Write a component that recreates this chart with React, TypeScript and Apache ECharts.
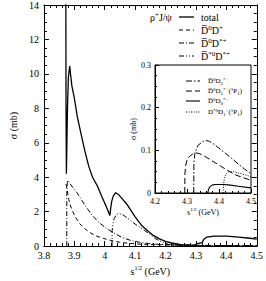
import React, { useEffect, useRef } from 'react';
import * as echarts from 'echarts';

// ---- main panel data (sqrt(s) in GeV, sigma in mb) ----
const totalX = [3.872, 3.8728, 3.874, 3.8752, 3.8775, 3.8805, 3.885, 3.8875, 3.892, 3.9, 3.91, 3.923, 3.935, 3.948, 3.96, 3.977, 3.99, 4.005, 4.017, 4.019, 4.023, 4.028, 4.036, 4.045, 4.06, 4.0755, 4.085, 4.1, 4.115, 4.124, 4.144, 4.16, 4.18, 4.2, 4.22, 4.25, 4.28, 4.295, 4.305, 4.32, 4.326, 4.335, 4.36, 4.4, 4.44, 4.47, 4.5];
const totalY = [16, 8.0, 4.2, 5.5, 8.0, 9.8, 10.45, 10.0, 9.3, 8.6, 7.5, 6.45, 5.5, 4.6, 4.0, 3.45, 2.9, 2.3, 1.78, 2.1, 2.6, 2.9, 3.1, 3.0, 2.7, 2.37, 2.1, 1.7, 1.35, 1.15, 0.85, 0.62, 0.42, 0.28, 0.18, 0.09, 0.06, 0.06, 0.15, 0.2, 0.4, 0.52, 0.58, 0.58, 0.52, 0.47, 0.4];

const d0dpX = [3.873, 3.876, 3.882, 3.89, 3.903, 3.918, 3.932, 3.95, 3.97, 3.995, 4.02, 4.05, 4.08, 4.12, 4.17, 4.23, 4.3, 4.4, 4.5];
const d0dpY = [3.6, 3.3, 2.7, 2.2, 1.7, 1.3, 1.05, 0.8, 0.6, 0.45, 0.33, 0.22, 0.16, 0.11, 0.08, 0.06, 0.04, 0.03, 0.02];

const d0dspX = [3.8752, 3.8753, 3.877, 3.879, 3.885, 3.895, 3.909, 3.923, 3.938, 3.956, 3.976, 4.0, 4.026, 4.055, 4.085, 4.115, 4.144, 4.18, 4.22, 4.28, 4.35, 4.42, 4.5];
const d0dspY = [0, 3.0, 3.7, 3.82, 3.65, 3.4, 3.1, 2.7, 2.3, 1.85, 1.45, 1.1, 0.8, 0.52, 0.33, 0.22, 0.15, 0.1, 0.07, 0.05, 0.04, 0.03, 0.03];

const ds0dspX = [4.024, 4.0245, 4.027, 4.031, 4.038, 4.047, 4.06, 4.075, 4.085, 4.1, 4.115, 4.13, 4.144, 4.165, 4.19, 4.21, 4.24, 4.3, 4.4, 4.5];
const ds0dspY = [0, 0.9, 1.3, 1.6, 1.82, 1.9, 1.82, 1.62, 1.48, 1.28, 1.1, 0.92, 0.75, 0.45, 0.22, 0.1, 0.05, 0.03, 0.02, 0.01];

// ---- inset data ----
const d2X = [4.321, 4.3215, 4.325, 4.335, 4.35, 4.36, 4.37, 4.385, 4.4, 4.42, 4.44, 4.46, 4.48, 4.5];
const d2Y = [0, 0.07, 0.095, 0.112, 0.121, 0.123, 0.121, 0.114, 0.105, 0.093, 0.081, 0.068, 0.056, 0.045];

const d1X = [4.293, 4.2935, 4.296, 4.3, 4.308, 4.317, 4.329, 4.34, 4.36, 4.39, 4.42, 4.45, 4.475, 4.5];
const d1Y = [0, 0.045, 0.065, 0.077, 0.086, 0.091, 0.094, 0.092, 0.084, 0.07, 0.056, 0.043, 0.036, 0.03];

const d0X = [4.365, 4.367, 4.372, 4.38, 4.39, 4.41, 4.43, 4.46, 4.5];
const d0Y = [0, 0.008, 0.015, 0.019, 0.02, 0.02, 0.019, 0.016, 0.012];

const dsd1X = [4.413, 4.414, 4.417, 4.422, 4.43, 4.445, 4.465, 4.485, 4.5];
const dsd1Y = [0, 0.02, 0.035, 0.045, 0.05, 0.05, 0.046, 0.042, 0.038];

const zip = (xs: number[], ys: number[]) => xs.map((x, i) => [x, ys[i]]);

const FONT = 'Liberation Serif';
const BAR = '\u0305';

// line styles
const DASH_D0DP = [4, 3];
const DASH_D0DSP = [5, 2, 1, 2];
const DASH_DS0DSP = [5, 2, 1, 2, 1, 2];
const DASH_D2 = [6, 2, 1.5, 2];
const DASH_D1 = [6, 3];
const DASH_DOT = [1, 1.5];

const labels: Record<string, string> = {
  'total': '{n|total}',
  'D0D+': `{n|D${BAR}}{sp|0}{n|D}{sp|+}`,
  'D0D*+': `{n|D${BAR}}{sp|0}{n|D}{sp|*+}`,
  'D*0D*+': `{n|D${BAR}}{sp|*0}{n|D}{sp|*+}`,
  'D0D2*+': `{n|D${BAR}}{sp|0}{n|D}{sb|2}{sp|*+}`,
  'D0D1*+(3P1)': `{n|D${BAR}}{sp|0}{n|D}{sb|1}{sp|*+}{n|(}{sp|3}{n|P}{sb|1}{n|)}`,
  'D0D0*+': `{n|D${BAR}}{sp|0}{n|D}{sb|0}{sp|*+}`,
  'D*0D1+(1P1)': `{n|D}{sp|*0}{n|D}{sb|1}{sp|+}{n|(}{sp|1}{n|P}{sb|1}{n|)}`,
};

const richMain = {
  n: { fontFamily: FONT, fontSize: 10, lineHeight: 11, color: '#000' },
  sp: { fontFamily: FONT, fontSize: 7, lineHeight: 7, verticalAlign: 'top', color: '#000' },
  sb: { fontFamily: FONT, fontSize: 7, lineHeight: 7, verticalAlign: 'bottom', color: '#000' },
};
const richInset = {
  n: { fontFamily: FONT, fontSize: 7, lineHeight: 9, color: '#000' },
  sp: { fontFamily: FONT, fontSize: 5, lineHeight: 5, verticalAlign: 'top', color: '#000' },
  sb: { fontFamily: FONT, fontSize: 5, lineHeight: 5, verticalAlign: 'bottom', color: '#000' },
};

function axisCommon(fontSize: number, tickLen: number, minorLen: number, split: number) {
  return {
    axisLine: { show: true, onZero: false, lineStyle: { color: '#000', width: 1 } },
    axisTick: { show: true, inside: true, length: tickLen, lineStyle: { color: '#000', width: 1 } },
    minorTick: { show: true, splitNumber: split, length: minorLen, lineStyle: { color: '#000', width: 1 } },
    splitLine: { show: false },
    minorSplitLine: { show: false },
    axisLabel: { fontFamily: FONT, fontSize, color: '#000' },
  };
}

function legendRow(x1: number, x2: number, y: number, tx: number, dash: any, width: number, key: string, rich: any) {
  return [
    { type: 'line', z: 20, shape: { x1, y1: y, x2, y2: y }, style: { stroke: '#000', lineWidth: width, lineDash: dash } },
    { type: 'text', z: 20, x: tx, y, style: { text: labels[key], rich, verticalAlign: 'middle', align: 'left' } },
  ];
}

export default function App() {
  const ref = useRef<HTMLDivElement>(null);
  useEffect(() => {
    const chart = echarts.init(ref.current!, null, { renderer: 'svg' });
    const line = (name: string, xs: number[], ys: number[], type: any, width: number, gi: number) => ({
      name,
      type: 'line',
      xAxisIndex: gi === 0 ? 0 : 2,
      yAxisIndex: gi === 0 ? 0 : 2,
      data: zip(xs, ys),
      symbol: 'none',
      showSymbol: false,
      clip: true,
      lineStyle: { color: '#000', width, type },
      itemStyle: { color: '#000' },
      z: 5,
    });
    const option: any = {
      animation: false,
      backgroundColor: '#fff',
      textStyle: { fontFamily: FONT },
      grid: [
        { left: 23, top: 4, width: 238, height: 252, show: false },
        { left: 155, top: 65, width: 96, height: 128, show: true, borderColor: '#000', borderWidth: 1, backgroundColor: '#fff', z: 3 },
      ],
      xAxis: [
        {
          gridIndex: 0, type: 'value', min: 3.8, max: 4.5, interval: 0.1, position: 'bottom',
          ...axisCommon(10, 5, 3, 5),
          axisLabel: { fontFamily: FONT, fontSize: 10, color: '#000', margin: 4 },
          name: '{s|s}{sp|1/2}{n| (GeV)}', nameLocation: 'middle', nameGap: 15,
          nameTextStyle: {
            rich: {
              s: { fontFamily: FONT, fontSize: 10, lineHeight: 12, color: '#000' },
              sp: { fontFamily: FONT, fontSize: 6, lineHeight: 6, verticalAlign: 'top', color: '#000' },
              n: { fontFamily: FONT, fontSize: 10, lineHeight: 12, color: '#000' },
            },
          },
        },
        {
          gridIndex: 0, type: 'value', min: 3.8, max: 4.5, interval: 0.1, position: 'top',
          ...axisCommon(10, 5, 3, 5),
          axisLabel: { show: false },
        },
        {
          gridIndex: 1, type: 'value', min: 4.2, max: 4.5, interval: 0.1, position: 'bottom',
          ...axisCommon(8, 4, 2, 5),
          axisLabel: { fontFamily: FONT, fontSize: 8, color: '#000', margin: 4 },
          name: '{s|s}{sp|1/2}{n| (GeV)}', nameLocation: 'middle', nameGap: 14,
          nameTextStyle: {
            rich: {
              s: { fontFamily: FONT, fontSize: 8, lineHeight: 10, color: '#000' },
              sp: { fontFamily: FONT, fontSize: 5, lineHeight: 5, verticalAlign: 'top', color: '#000' },
              n: { fontFamily: FONT, fontSize: 8, lineHeight: 10, color: '#000' },
            },
          },
          z: 4,
        },
      ],
      yAxis: [
        {
          gridIndex: 0, type: 'value', min: 0, max: 14, interval: 2, position: 'left',
          ...axisCommon(10, 5, 3, 4),
          axisLabel: { fontFamily: FONT, fontSize: 10, color: '#000', margin: 5 },
          name: 'σ (mb)', nameLocation: 'middle', nameGap: 13,
          nameTextStyle: { fontFamily: FONT, fontSize: 10, color: '#000' },
        },
        {
          gridIndex: 0, type: 'value', min: 0, max: 14, interval: 2, position: 'right',
          ...axisCommon(10, 5, 3, 4),
          axisLabel: { show: false },
        },
        {
          gridIndex: 1, type: 'value', min: 0, max: 0.3, interval: 0.1, position: 'left',
          ...axisCommon(8, 4, 2, 4),
          axisLabel: { fontFamily: FONT, fontSize: 8, color: '#000', margin: 4 },
          name: 'σ (mb)', nameLocation: 'middle', nameGap: 17,
          nameTextStyle: { fontFamily: FONT, fontSize: 8, color: '#000' },
          z: 4,
        },
      ],
      graphic: [
        { type: 'text', z: 20, x: 150, y: 17, style: { text: '{n|ρ}{sp|+}{n|J/ψ}', rich: richMain, verticalAlign: 'middle', align: 'left' } },
        ...legendRow(179, 194, 17, 201, null, 1.3, 'total', richMain),
        ...legendRow(179, 194, 30, 201, DASH_D0DP, 1, 'D0D+', richMain),
        ...legendRow(179, 194, 43, 201, DASH_D0DSP, 1, 'D0D*+', richMain),
        ...legendRow(179, 194, 56, 201, DASH_DS0DSP, 1, 'D*0D*+', richMain),
        ...legendRow(186, 200, 81, 208, DASH_D2, 1, 'D0D2*+', richInset),
        ...legendRow(186, 200, 91, 208, DASH_D1, 1, 'D0D1*+(3P1)', richInset),
        ...legendRow(186, 200, 101, 208, null, 1.1, 'D0D0*+', richInset),
        ...legendRow(186, 200, 112, 208, DASH_DOT, 1, 'D*0D1+(1P1)', richInset),
      ],
      series: [
        line('total', totalX, totalY, 'solid', 1.3, 0),
        line('D0D+', d0dpX, d0dpY, DASH_D0DP, 1, 0),
        line('D0D*+', d0dspX, d0dspY, DASH_D0DSP, 1, 0),
        line('D*0D*+', ds0dspX, ds0dspY, DASH_DS0DSP, 1, 0),
        line('D0D2*+', d2X, d2Y, DASH_D2, 1, 1),
        line('D0D1*+(3P1)', d1X, d1Y, DASH_D1, 1, 1),
        line('D0D0*+', d0X, d0Y, 'solid', 1.1, 1),
        line('D*0D1+(1P1)', dsd1X, dsd1Y, DASH_DOT, 1, 1),
      ],
    };
    chart.setOption(option);
    return () => chart.dispose();
  }, []);
  return <div ref={ref} style={{ position: 'fixed', left: 0, top: 0, width: 266, height: 281, background: '#fff' }} />;
}
